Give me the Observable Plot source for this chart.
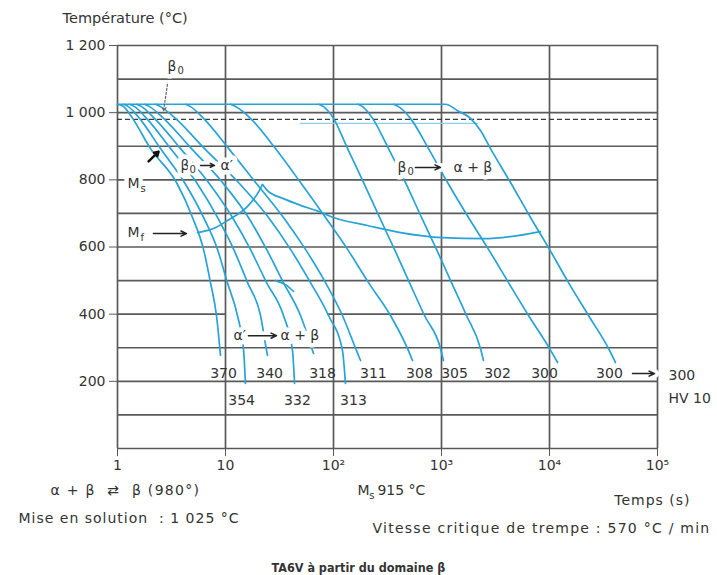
<!DOCTYPE html>
<html><head><meta charset="utf-8">
<script src="https://cdn.jsdelivr.net/npm/d3@7"></script>
<script src="https://cdn.jsdelivr.net/npm/@observablehq/plot@0.6"></script>
<style>body{margin:0;background:#fff}</style>
</head><body><div id="chart"></div>
<script>
// ---- axes / grid values ----
const decades = [1, 10, 100, 1000, 10000, 100000];
const decadeLabels = ["1", "10", "10²", "10³", "10⁴", "10⁵"];
const gridTemps = [100, 200, 300, 500, 600, 700, 800, 900, 1000, 1100, 1200];
const grid400Segments = [[1, 10], [88, 100000]];
const yTicks = [200, 400, 600, 800, 1000, 1200];
const transusTemp = 980;          // α+β ⇄ β
const transusLine = [1, 100000];
const startLine = [[49.5, 968], [2154, 968]];

// ---- cooling curves [time s, temperature °C], named by final hardness HV10 ----
const curve370 = [[1,1025],[1.14,1018],[1.38,983],[2.02,893],[3.52,792],[4.95,688],[6.26,593],[7.26,494],[8.25,396],[8.99,277]];
const curve354 = [[1.14,1025],[1.26,1018],[1.6,983],[2.5,893],[4.17,792],[6.26,688],[8.43,593],[10.4,494],[12.9,396],[14.7,292],[15.3,194]];
const curve340 = [[1.29,1025],[1.44,1018],[1.86,983],[3.1,893],[5.39,792],[8.43,688],[11.9,593],[16,494],[21.1,396],[24,292],[24.5,277]];
const curve332 = [[1.5,1025],[1.67,1018],[2.2,983],[3.83,893],[6.96,792],[11.6,688],[17,593],[24,494],[34.4,396],[41.7,292],[43.6,194]];
const curve318 = [[1.78,1025],[1.98,1018],[2.67,983],[4.84,893],[9.38,792],[16.3,688],[24,593],[34.4,494],[49.5,396],[63.9,292],[65.3,283]];
const curve313 = [[2.25,1025],[2.5,1018],[3.44,983],[6.39,893],[13.2,792],[25,688],[40,593],[61.2,494],[89.9,396],[121,292],[129,194]];
const curve311 = [[4.26,1025],[4.74,1018],[6.26,983],[10.7,893],[19,792],[34.4,688],[55,593],[84.3,494],[121,396],[163,292],[178,262]];
const curve308 = [[11.1,1025],[12.4,1018],[17,983],[29,893],[49.5,792],[84.3,688],[135,593],[211,494],[337,396],[484,298],[539,262]];
const curve305 = [[72.6,1025],[80.8,1018],[100,983],[135,893],[190,792],[267,688],[367,593],[505,494],[696,396],[979,298],[1043,262]];
const curve302 = [[167,1025],[186,1018],[230,983],[323,893],[464,792],[653,688],[899,593],[1238,494],[1704,396],[2297,298],[2448,262]];
const curve300a = [[359,1025],[400,1018],[516,983],[758,893],[1137,792],[1778,688],[2724,593],[4173,494],[6391,396],[10000,298],[11864,256]];
const curve300b = [[1,1025],[1089,1025],[1406,1006],[1855,983],[2297,947],[2843,893],[4356,792],[6670,688],[10000,593],[14997,494],[22966,396],[35184,298],[40843,256]];

// transformation lines
const mfCurve = [[5.51,643],[7.74,655],[10.43,679],[15.99,721],[19.79,759],[22.0,786]];
const finishCurve = [[22.0,786],[24.5,768],[34.4,744],[49.5,724],[72.6,706],[100,688],[206.5,664],[417,643],[1021,628],[2448,625],[5054,634],[8254,646]];
const hookCurve = [[29.0,500],[35.9,488],[42.6,468]];

// ---- hardness labels ----
const hvTop = ["370","340","318","311","308","305","302","300","300"];
const hvTopTime = [9.58, 25.6, 79.1, 234, 625, 1320, 3300, 8990, 35900];
const hvTopTemp = 223;
const hvBottom = ["354","332","313"];
const hvBottomTime = [14.1, 46.4, 153];
const hvBottomTemp = 143;

// ---- annotations ----
const labelMain = [
  {text: "β", t: 2.9, T: 1137},
  {text: "β", t: 3.83, T: 843},
  {text: "α′", t: 9.0, T: 843},
  {text: "β", t: 391, T: 837},
  {text: "α + β", t: 1291, T: 837},
  {text: "α′", t: 11.86, T: 336},
  {text: "α + β", t: 32.3, T: 336},
  {text: "M", t: 1.24, T: 789},
  {text: "M", t: 1.24, T: 643}
];
const labelSub = [
  {text: "0", t: 3.59, T: 1124},
  {text: "0", t: 4.64, T: 829},
  {text: "0", t: 484, T: 823},
  {text: "s", t: 1.63, T: 774},
  {text: "f", t: 1.63, T: 628}
];
const labelArrows = [
  {t1: 5.87, t2: 7.91, T1: 843, T2: 843},
  {t1: 574, t2: 979, T1: 837, T2: 837},
  {t1: 16.3, t2: 29.7, T1: 336, T2: 336},
  {t1: 2.15, t2: 4.35, T1: 640, T2: 640},
  {t1: 58700, t2: 93800, T1: 223, T2: 223}
];
const msArrow = [{t1: 1.94, T1: 855, t2: 2.4, T2: 884}];
const betaArrow = [{t1: 2.9, T1: 1084, t2: 2.67, T2: 1006}];
const hvRight = [{text: "300", t: 126500, T: 217}, {text: "HV 10", t: 126500, T: 149}];

const axisTitle = [{text: "Température (°C)", t: 0.31, T: 1280}];
const footStart = [
  {text: "α + β  ⇄  β (980°)", t: 0.24, T: -125},
  {text: "Mise en solution  : 1 025 °C", t: 0.121, T: -208},
  {text: "M", t: 167, T: -125},
  {text: "915 °C", t: 255, T: -125}
];
const footSub = [{text: "s", t: 214, T: -140}];
const footEnd = [
  {text: "Temps (s)", t: 202300, T: -155},
  {text: "Vitesse critique de trempe : 570 °C / min", t: 309500, T: -238}
];
const caption = [{text: "TA6V à partir du domaine β", t: 170, T: -357}];

// ---- build tables ----
const curves = {
  "370": curve370, "354": curve354, "340": curve340, "332": curve332, "318": curve318, "313": curve313,
  "311": curve311, "308": curve308, "305": curve305, "302": curve302, "300a": curve300a, "300b": curve300b
};
const coolRows = Object.entries(curves).flatMap(([id, pts]) => pts.map(([t, T]) => ({id, t, T})));
const transRows = [
  ...mfCurve.map(([t, T]) => ({id: "mf", t, T})),
  ...finishCurve.map(([t, T]) => ({id: "fin", t, T})),
  ...hookCurve.map(([t, T]) => ({id: "hook", t, T}))
];
const topRows = hvTop.map((s, i) => ({text: s, t: hvTopTime[i], T: hvTopTemp}));
const botRows = hvBottom.map((s, i) => ({text: s, t: hvBottomTime[i], T: hvBottomTemp}));
const decadeText = new Map(decades.map((d, i) => [d, decadeLabels[i]]));
const fmtT = d => d >= 1000 ? `${Math.floor(d / 1000)} ${String(d % 1000).padStart(3, "0")}` : `${d}`;

const GRID = "#5a5a5a", CYAN = "#27a3d7", INK = "#333";
const FONT = "'DejaVu Sans', sans-serif";
const NARROW = "'Liberation Sans Narrow', 'DejaVu Sans Condensed', 'Liberation Sans', sans-serif";

const plot = Plot.plot({
  width: 717, height: 575,
  marginLeft: 117, marginRight: 60, marginTop: 45, marginBottom: 127,
  x: {type: "log", domain: [1, 100000]},
  y: {domain: [0, 1200]},
  style: {fontFamily: FONT, fontSize: "14px", color: INK, background: "white"},
  marks: [
    // grid
    Plot.ruleY(gridTemps, {x1: 1, x2: 100000, stroke: GRID, strokeWidth: 1.7}),
    Plot.ruleY(grid400Segments, {y: () => 400, x1: d => d[0], x2: d => d[1], stroke: GRID, strokeWidth: 1.7}),
    Plot.ruleY([0], {x1: 1, x2: 100000, stroke: GRID, strokeWidth: 1.7}),
    Plot.ruleX(decades, {y1: 0, y2: 1200, stroke: GRID, strokeWidth: 1.7}),
    Plot.ruleY([transusTemp], {x1: transusLine[0], x2: transusLine[1], stroke: "#3a3a3a", strokeWidth: 1.4, strokeDasharray: "5,3"}),
    Plot.line(startLine, {x: d => d[0], y: d => d[1], stroke: "#8ccfee", strokeWidth: 1.2}),
    // axes
    Plot.axisY(yTicks, {tickSize: 8, tickPadding: 4, tickFormat: fmtT, label: null, stroke: GRID, fontSize: 14, fill: INK}),
    Plot.axisX(decades, {tickSize: 8, tickPadding: 4, tickFormat: d => decadeText.get(d), label: null, stroke: GRID, fontSize: 14, fill: INK}),
    // cooling curves
    Plot.line(coolRows, {x: "t", y: "T", z: "id", curve: "monotone-x", stroke: CYAN, strokeWidth: 1.7}),
    Plot.line(transRows, {x: "t", y: "T", z: "id", curve: "monotone-x", stroke: CYAN, strokeWidth: 1.7}),
    // label masks + labels
    Plot.arrow(labelArrows, {x1: "t1", x2: "t2", y1: "T1", y2: "T2", stroke: "white", strokeWidth: 9, headLength: 0}),
    Plot.text(labelMain, {x: "t", y: "T", text: "text", textAnchor: "start", fontSize: 14, fill: INK, stroke: "white", strokeWidth: 9, paintOrder: "stroke"}),
    Plot.text(labelSub, {x: "t", y: "T", text: "text", textAnchor: "start", fontSize: 10, fill: INK, stroke: "white", strokeWidth: 5, paintOrder: "stroke"}),
    Plot.arrow(labelArrows, {x1: "t1", x2: "t2", y1: "T1", y2: "T2", stroke: "#222", strokeWidth: 1.5, headLength: 6, headAngle: 50}),
    Plot.arrow(msArrow, {x1: "t1", x2: "t2", y1: "T1", y2: "T2", stroke: "#111", strokeWidth: 2.5, headLength: 5}),
    Plot.arrow(betaArrow, {x1: "t1", x2: "t2", y1: "T1", y2: "T2", stroke: "#666", strokeWidth: 1.2, strokeDasharray: "2,2", headLength: 5}),
    // hardness values
    Plot.text(topRows, {x: "t", y: "T", text: "text", fontSize: 14, fill: INK}),
    Plot.text(botRows, {x: "t", y: "T", text: "text", fontSize: 14, fill: INK}),
    Plot.text(hvRight, {x: "t", y: "T", text: "text", textAnchor: "start", fontSize: 14, fill: INK}),
    // titles & notes
    Plot.text(axisTitle, {x: "t", y: "T", text: "text", textAnchor: "start", fontSize: 14.5, fill: INK}),
    Plot.text(footStart, {x: "t", y: "T", text: "text", textAnchor: "start", fontSize: 14, fill: INK}),
    Plot.text(footSub, {x: "t", y: "T", text: "text", textAnchor: "start", fontSize: 10, fill: INK}),
    Plot.text(footEnd, {x: "t", y: "T", text: "text", textAnchor: "end", fontSize: 14, fill: INK}),
    Plot.text(caption, {x: "t", y: "T", text: "text", fontSize: 12.5, fontWeight: "bold", fill: INK, fontFamily: NARROW})
  ]
});
document.getElementById("chart").append(plot);

// widen the note lines (the reference type is set wide)
const wide = new Map([
  ["Mise en solution  : 1 025 °C", "1px"],
  ["Vitesse critique de trempe : 570 °C / min", "1.25px"],
  ["Temps (s)", "1px"],
  ["α + β  ⇄  β (980°)", "1.3px"]
]);
d3.select(plot).selectAll("text").each(function () {
  const ls = wide.get(this.textContent);
  if (ls) this.style.letterSpacing = ls;
});
</script>
</body></html>
